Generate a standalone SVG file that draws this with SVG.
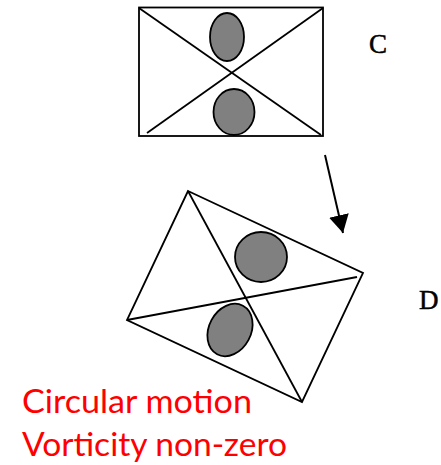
<svg xmlns="http://www.w3.org/2000/svg" width="441" height="465" viewBox="0 0 441 465">
<style>
.ln{fill:none;stroke:#000;stroke-width:1.8;stroke-linejoin:miter}
.blob{fill:#808080;stroke:#000;stroke-width:1.8}
.lbl{font-family:"Liberation Serif","Times New Roman",serif;font-size:27px;fill:#000;stroke:#000;stroke-width:0.5}
.red{font-family:Lato,"Liberation Sans",sans-serif;font-size:32px;fill:#ff0000}
</style>
<defs>
<marker id="ah" viewBox="0 0 18 20" refX="18" refY="10" markerWidth="18" markerHeight="20" markerUnits="userSpaceOnUse" orient="auto">
<path d="M0,0 L18,10 L0,20 Z" fill="#000"/>
</marker>
</defs>
<rect width="441" height="465" fill="#fff"/>
<g id="nodeC">
<rect class="ln" x="139" y="7.5" width="184" height="128.5"/>
<line class="ln" x1="139" y1="8" x2="321" y2="135"/>
<line class="ln" x1="323" y1="8" x2="147" y2="133"/>
<ellipse class="blob" cx="227" cy="37" rx="17" ry="24"/>
<ellipse class="blob" cx="234" cy="112" rx="20.5" ry="23"/>
<text class="lbl" x="369" y="53">C</text>
</g>
<g id="nodeD">
<polygon class="ln" points="188,191 363,273 302,402 127,320"/>
<line class="ln" x1="188" y1="191" x2="302" y2="402"/>
<line class="ln" x1="127" y1="320" x2="357" y2="277"/>
<ellipse class="blob" cx="261" cy="257" rx="26" ry="25"/>
<ellipse class="blob" cx="230" cy="330" rx="21" ry="27.5" transform="rotate(28 230 330)"/>
<text class="lbl" x="419" y="309">D</text>
</g>
<g id="connectors">
<line x1="325" y1="155" x2="343" y2="233" stroke="#000" stroke-width="2" marker-end="url(#ah)"/>
</g>
<g id="caption">
<text class="red" x="22" y="413" textLength="230" lengthAdjust="spacingAndGlyphs">Circular motion</text>
<text class="red" x="22" y="456" textLength="265" lengthAdjust="spacingAndGlyphs">Vorticity non-zero</text>
</g>
</svg>
